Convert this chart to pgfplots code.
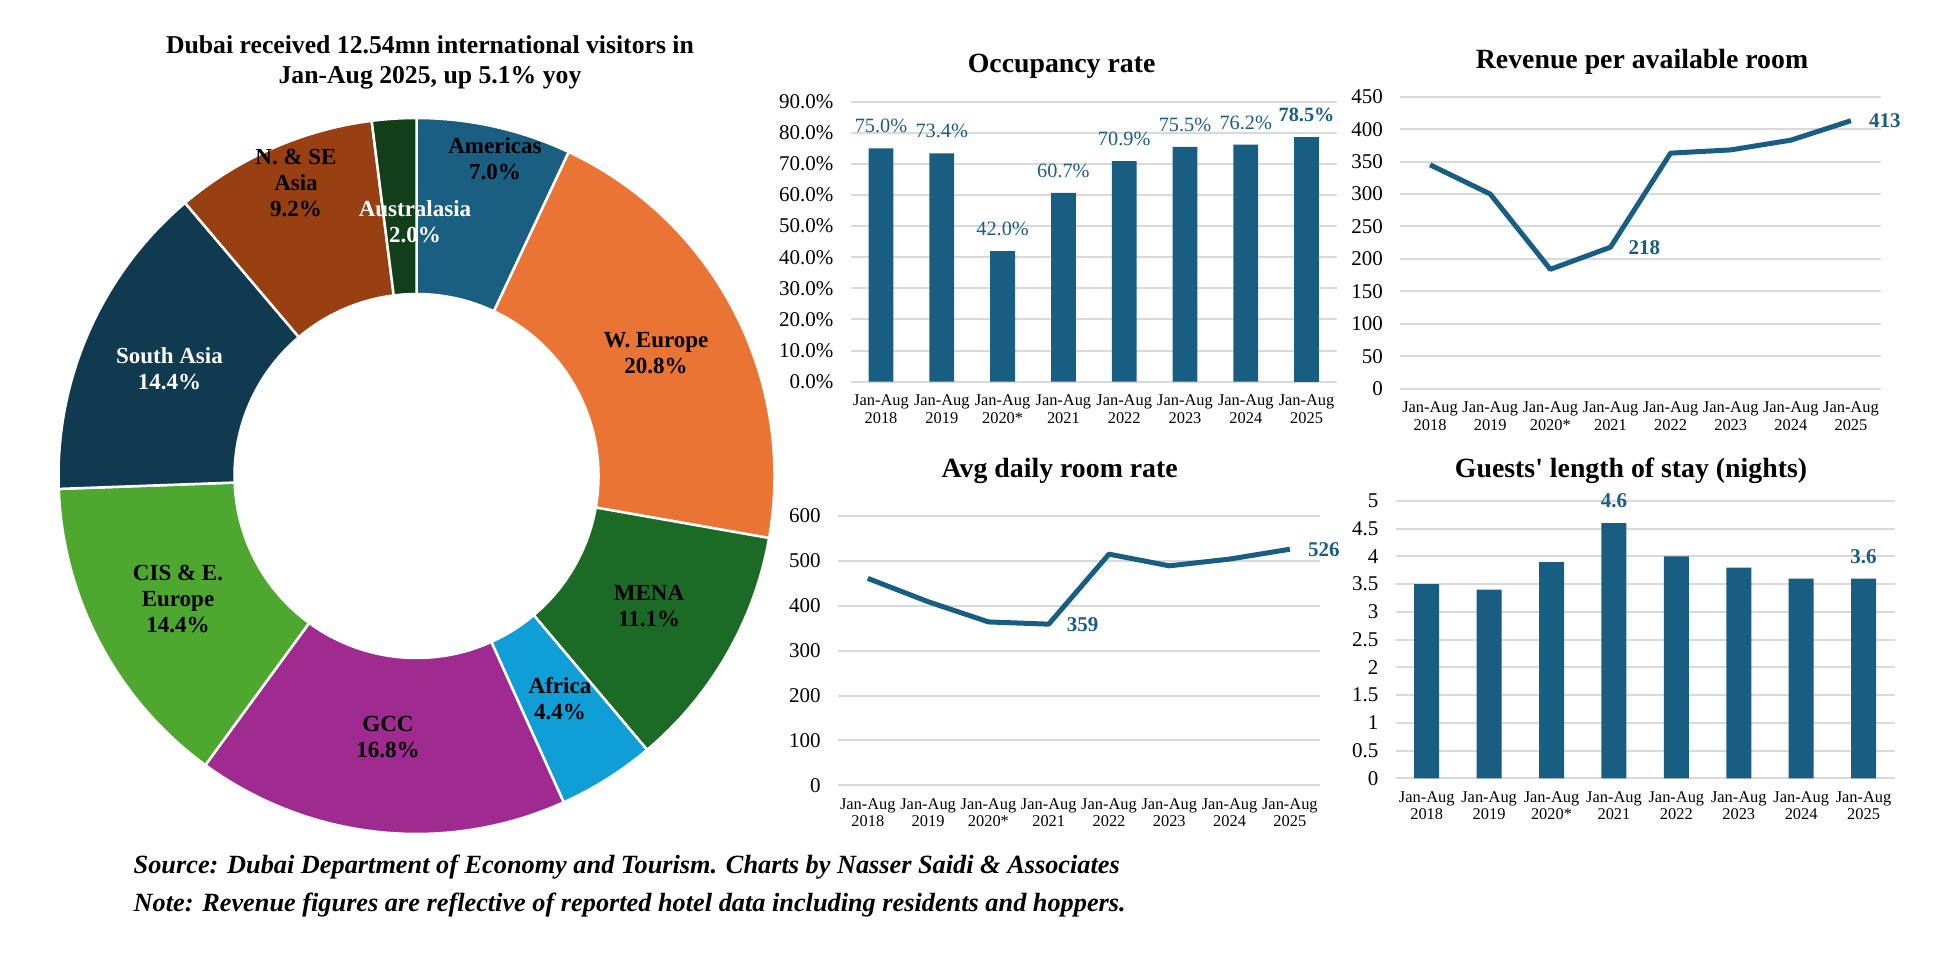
\documentclass[border=0pt]{standalone}
\usepackage{fontspec}
\setmainfont{Liberation Serif}
\usepackage{pgfplots}
\pgfplotsset{compat=1.18}

\definecolor{bblue}{HTML}{185E82}
\definecolor{gridc}{HTML}{D9D9D9}
\definecolor{cAmer}{HTML}{1A5E82}
\definecolor{cWEur}{HTML}{E97434}
\definecolor{cMENA}{HTML}{1B6A25}
\definecolor{cAfr}{HTML}{109ED6}
\definecolor{cGCC}{HTML}{9F2B91}
\definecolor{cCIS}{HTML}{4EA72E}
\definecolor{cSAsia}{HTML}{0F3A4F}
\definecolor{cNSE}{HTML}{984012}
\definecolor{cAus}{HTML}{123F19}

\pgfplotsset{
  panel/.style={
    scale only axis,
    xmin=-0.5, xmax=7.5, ymin=0,
    axis line style={draw=none},
    major tick length=0pt,
    xtick={0,...,7},
    xticklabels={{Jan-Aug\\2018},{Jan-Aug\\2019},{Jan-Aug\\2020*},{Jan-Aug\\2021},{Jan-Aug\\2022},{Jan-Aug\\2023},{Jan-Aug\\2024},{Jan-Aug\\2025}},
    xticklabel style={align=center, font=\fontsize{16.4}{17.3}\selectfont, inner sep=0pt, anchor=north, yshift=-13pt},
    yticklabel style={font=\fontsize{21}{21}\selectfont, inner sep=0pt, anchor=east, xshift=-17pt},
    ymajorgrids,
    grid style={draw=gridc, line width=2pt},
    /pgf/number format/assume math mode=true,
    clip=false,
  },
}
\tikzset{
  ptitle/.style={font=\bfseries\fontsize{27.8}{30}\selectfont},
  dl/.style={align=center, font=\bfseries\fontsize{23}{26}\selectfont, inner sep=0pt},
}

\begin{document}
\begin{tikzpicture}

% ---------------- Donut ----------------
\begin{axis}[hide axis, scale only axis, x=1pt, y=1pt,
  xmin=-380, xmax=380, ymin=-380, ymax=380, clip=false,
  anchor=south west, at={(36.5pt,98pt)}]
\xdef\cumA{90}
\foreach \val/\col in {7.0/cAmer, 20.8/cWEur, 11.1/cMENA, 4.4/cAfr, 16.8/cGCC, 14.4/cCIS, 14.4/cSAsia, 9.2/cNSE, 2.0/cAus} {
  \pgfmathsetmacro\angA{\cumA}
  \pgfmathsetmacro\angB{\cumA - \val*360/100.1}
  \edef\temp{\noexpand\filldraw[fill=\col, draw=white, line width=2.5pt, line join=round]
    (axis cs:{358*cos(\angA)},{358*sin(\angA)}) arc[start angle=\angA, end angle=\angB, radius=358pt]
    -- (axis cs:{182*cos(\angB)},{182*sin(\angB)}) arc[start angle=\angB, end angle=\angA, radius=182pt] -- cycle;}
  \temp
  \xdef\cumA{\angB}
}
\node[dl] at (axis cs:78.5,317) {Americas\\7.0\%};
\node[dl] at (axis cs:239.5,123) {W. Europe\\20.8\%};
\node[dl] at (axis cs:232.5,-130.5) {MENA\\11.1\%};
\node[dl] at (axis cs:143.5,-222.5) {Africa\\4.4\%};
\node[dl] at (axis cs:-28.5,-261) {GCC\\16.8\%};
\node[dl] at (axis cs:-238.5,-123) {CIS \& E.\\Europe\\14.4\%};
\node[dl, text=white] at (axis cs:-247,107) {South Asia\\14.4\%};
\node[dl] at (axis cs:-120.5,293) {N. \& SE\\Asia\\9.2\%};
\node[dl, text=white] at (axis cs:-1.5,254.5) {Australasia\\2.0\%};
\end{axis}

\node[align=center, font=\bfseries\fontsize{25.7}{30}\selectfont] at (430pt,892pt)
  {Dubai received 12.54mn international visitors in\\Jan-Aug 2025, up 5.1\% yoy};

% ---------------- Occupancy rate ----------------
\begin{axis}[panel, at={(850.6pt,572.3pt)}, anchor=south west,
  width=486.4pt, height=280pt, ymax=90, ytick={0,10,...,90},
  yticklabel={\pgfmathprintnumber[fixed,fixed zerofill,precision=1]{\tick}\%}]
\addplot[ybar, bar width=24.8pt, bar shift=0pt, fill=bblue, draw=none,
  nodes near coords={\pgfmathprintnumber[fixed,fixed zerofill,precision=1]{\pgfplotspointmeta}\%},
  every node near coord/.append style={anchor=south, inner sep=0pt, yshift=15pt, text=bblue, font=\fontsize{20.3}{20.3}\selectfont}]
  coordinates {(0,75.0) (1,73.4) (2,42.0) (3,60.7) (4,70.9) (5,75.5) (6,76.2)};
\addplot[ybar, bar width=24.8pt, bar shift=0pt, fill=bblue, draw=none,
  nodes near coords={\pgfmathprintnumber[fixed,fixed zerofill,precision=1]{\pgfplotspointmeta}\%},
  every node near coord/.append style={anchor=south, inner sep=0pt, yshift=15pt, text=bblue, font=\bfseries\fontsize{20.3}{20.3}\selectfont}]
  coordinates {(7,78.5)};
\end{axis}
\node[ptitle] at (1061.6pt,887.3pt) {Occupancy rate};

% ---------------- RevPAR ----------------
\begin{axis}[panel, at={(1400pt,565.3pt)}, anchor=south west,
  width=481pt, height=292pt, ymax=450, ytick={0,50,...,450}]
\addplot[bblue, line width=5pt, line join=round] coordinates {(0,345) (1,300) (2,184) (3,218) (4,363) (5,368) (6,383) (7,413)};
\addplot[draw=none, nodes near coords={\pgfmathprintnumber{\pgfplotspointmeta}},
  every node near coord/.append style={anchor=west, inner sep=0pt, xshift=18pt, text=bblue, font=\bfseries\fontsize{21}{21}\selectfont}]
  coordinates {(3,218) (7,413)};
\end{axis}
\node[ptitle] at (1642pt,892.3pt) {Revenue per available room};

% ---------------- ADR ----------------
\begin{axis}[panel, at={(837.7pt,168.7pt)}, anchor=south west,
  width=482.3pt, height=269.3pt, ymax=600, ytick={0,100,...,600}]
\addplot[bblue, line width=5pt, line join=round] coordinates {(0,461) (1,409) (2,364) (3,359) (4,515) (5,489) (6,504) (7,526)};
\addplot[draw=none, nodes near coords={\pgfmathprintnumber{\pgfplotspointmeta}},
  every node near coord/.append style={anchor=west, inner sep=0pt, xshift=18pt, text=bblue, font=\bfseries\fontsize{21}{21}\selectfont}]
  coordinates {(3,359) (7,526)};
\end{axis}
\node[ptitle] at (1059.7pt,483.3pt) {Avg daily room rate};

% ---------------- Length of stay ----------------
\begin{axis}[panel, at={(1395.5pt,175.7pt)}, anchor=south west,
  width=499.3pt, height=277.3pt, ymax=5, ytick={0,0.5,...,5}]
\addplot[ybar, bar width=25pt, bar shift=0pt, fill=bblue, draw=none]
  coordinates {(0,3.5) (1,3.4) (2,3.9) (3,4.6) (4,4.0) (5,3.8) (6,3.6) (7,3.6)};
\addplot[draw=none, nodes near coords={\pgfmathprintnumber[fixed,fixed zerofill,precision=1]{\pgfplotspointmeta}},
  every node near coord/.append style={anchor=south, inner sep=0pt, yshift=15pt, text=bblue, font=\bfseries\fontsize{21}{21}\selectfont}]
  coordinates {(3,4.6) (7,3.6)};
\end{axis}
\node[ptitle] at (1631pt,483.3pt) {Guests\textquotesingle\ length of stay (nights)};

% ---------------- Footnotes ----------------
\node[anchor=west, inner sep=0pt, font=\bfseries\itshape\fontsize{26.3}{30}\selectfont] at (133.5pt,87.3pt)
  {Source: Dubai Department of Economy and Tourism. Charts by Nasser Saidi \& Associates};
\node[anchor=west, inner sep=0pt, font=\bfseries\itshape\fontsize{26.3}{30}\selectfont] at (133.5pt,49pt)
  {Note: Revenue figures are reflective of reported hotel data including residents and hoppers.};

\pgfresetboundingbox
\path[use as bounding box] (0,0) rectangle (1948pt,954pt);
\end{tikzpicture}
\end{document}
